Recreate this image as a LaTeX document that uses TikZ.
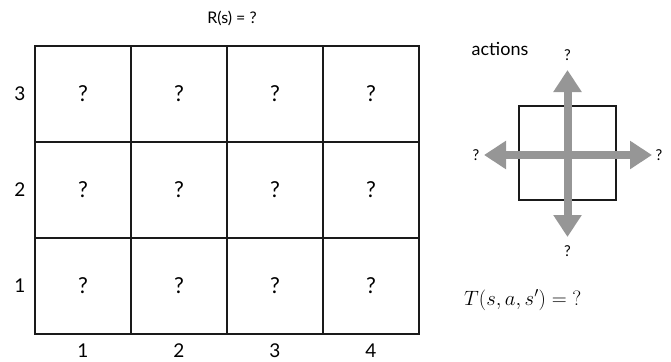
\documentclass[tikz,border=0pt]{standalone}
\usepackage{fontspec}
\setmainfont{Lato}
\usetikzlibrary{arrows.meta}
\definecolor{gridline}{HTML}{1A1A1A}
\definecolor{arrowgray}{HTML}{969696}
\tikzset{
  cell/.style={draw=gridline, line width=1.3pt, minimum size=96pt, inner sep=0pt, font=\fontsize{22}{26}\selectfont},
  axislabel/.style={inner sep=0pt, font=\fontsize{19}{22}\selectfont},
  qlabel/.style={inner sep=0pt, font=\fontsize{15}{18}\selectfont},
  actarrow/.style={draw=arrowgray, line width=8pt, {Triangle[length=22pt,width=27pt]}-{Triangle[length=22pt,width=27pt]}},
}
\begin{document}
\begin{tikzpicture}[x=1pt,y=-1pt]
\useasboundingbox (0,0) rectangle (671,361);
% grid cells
\foreach \c in {1,...,4}{
  \foreach \r in {1,2,3}{
    \node[cell] (c\c r\r) at ({35+96*(\c-0.5)},{334-96*(\r-0.5)}) {?};
  }
}
\node[inner sep=0pt, font=\fontsize{16}{19}\selectfont] (reward) at (232,18) {R(s) = ?};
% row labels
\node[axislabel] (row3) at (20,94) {3};
\node[axislabel] (row2) at (20,190) {2};
\node[axislabel] (row1) at (20,286) {1};
% column labels
\node[axislabel, anchor=north] (col1) at (83,344) {1};
\node[axislabel, anchor=north] (col2) at (179,344) {2};
\node[axislabel, anchor=north] (col3) at (275,344) {3};
\node[axislabel, anchor=north] (col4) at (371,344) {4};
% actions
\node[inner sep=0pt, font=\fontsize{18}{21}\selectfont] (actions) at (500,49) {actions};
\node[draw=gridline, line width=1.3pt, minimum width=97pt, minimum height=94pt, inner sep=0pt] (sq) at (567.5,153) {};
\coordinate (up) at (567.5,70);
\coordinate (down) at (567.5,237);
\coordinate (left) at (484,155);
\coordinate (right) at (652,155);
\draw[actarrow] (down) -- (up);
\draw[actarrow] (left) -- (right);
\node[qlabel] (qup) at (567.5,55) {?};
\node[qlabel] (qdown) at (567.5,251) {?};
\node[qlabel] (qleft) at (476,155) {?};
\node[qlabel] (qright) at (659,155) {?};
\node[inner sep=0pt, anchor=west, font=\fontsize{20.5}{24}\selectfont] (trans) at (464,300) {$T(s,a,s') = \mathord{?}$};
\end{tikzpicture}
\end{document}
